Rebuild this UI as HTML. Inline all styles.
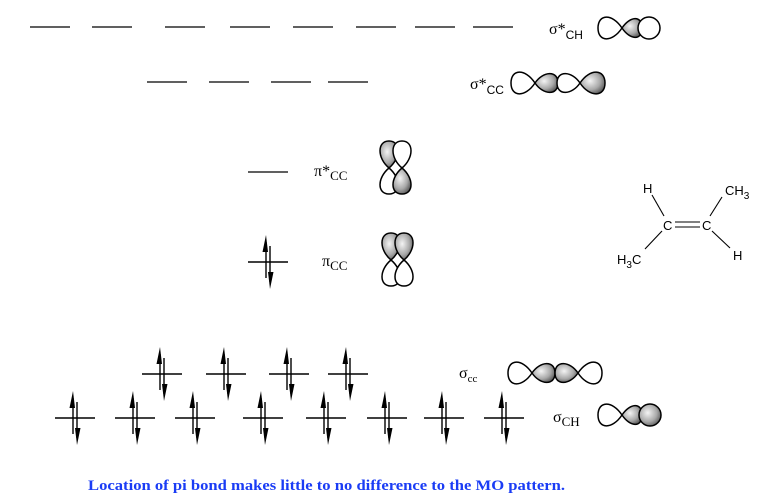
<!DOCTYPE html>
<html><head><meta charset="utf-8"><style>
html,body{margin:0;padding:0;background:#fff;}
svg{display:block;}
</style></head><body>
<svg width="781" height="502" viewBox="0 0 781 502" xmlns="http://www.w3.org/2000/svg">
<defs>
<radialGradient id="g" cx="0.4" cy="0.4" r="0.75">
<stop offset="0" stop-color="#f4f4f4"/><stop offset="0.55" stop-color="#a8a8a8"/><stop offset="1" stop-color="#3a3a3a"/>
</radialGradient>
<g id="ep">
<line x1="-20" y1="0" x2="20" y2="0" stroke="#000" stroke-width="1.4"/>
<line x1="-2" y1="-20" x2="-2" y2="16" stroke="#000" stroke-width="1.4"/>
<polygon points="-2,-27 -5.5,-10 0,-10" fill="#000"/>
<line x1="2" y1="-16" x2="2" y2="20" stroke="#000" stroke-width="1.4"/>
<polygon points="2,27 0,10 5.5,10" fill="#000"/>
</g>
</defs>
<g stroke="#000" stroke-width="1.3">
<line x1="30" y1="27" x2="70" y2="27"/><line x1="92" y1="27" x2="132" y2="27"/>
<line x1="165" y1="27" x2="205" y2="27"/><line x1="230" y1="27" x2="270" y2="27"/>
<line x1="293" y1="27" x2="333" y2="27"/><line x1="356" y1="27" x2="396" y2="27"/>
<line x1="415" y1="27" x2="455" y2="27"/><line x1="473" y1="27" x2="513" y2="27"/>
<line x1="147" y1="82" x2="187" y2="82"/><line x1="209" y1="82" x2="249" y2="82"/>
<line x1="271" y1="82" x2="311" y2="82"/><line x1="328" y1="82" x2="368" y2="82"/>
<line x1="248" y1="172" x2="288" y2="172"/>
</g>
<use href="#ep" x="268" y="262"/>
<use href="#ep" x="162" y="374"/><use href="#ep" x="226" y="374"/>
<use href="#ep" x="289" y="374"/><use href="#ep" x="348" y="374"/>
<use href="#ep" x="75" y="418"/><use href="#ep" x="135" y="418"/>
<use href="#ep" x="195" y="418"/><use href="#ep" x="263" y="418"/>
<use href="#ep" x="326" y="418"/><use href="#ep" x="387" y="418"/>
<use href="#ep" x="444" y="418"/><use href="#ep" x="504" y="418"/>

<g font-family="Liberation Serif, serif" font-size="16" fill="#000">
<text x="549" y="34">σ*<tspan font-family="Liberation Sans, sans-serif" font-size="12" dy="5">CH</tspan></text>
<text x="470" y="89">σ*<tspan font-family="Liberation Sans, sans-serif" font-size="12" dy="5">CC</tspan></text>
<text x="314" y="176">π*<tspan font-size="13" dy="4">CC</tspan></text>
<text x="322" y="266">π<tspan font-size="13" dy="4">CC</tspan></text>
<text x="459" y="378">σ<tspan font-size="11" dy="4">cc</tspan></text>
<text x="553" y="422">σ<tspan font-size="13" dy="4">CH</tspan></text>
</g>

<g stroke="#000" stroke-width="1.5">
<!-- sigma*CH -->
<path d="M622,28 C612,13 598,14 598,28 C598,42 612,43 622,28Z" fill="#fff"/>
<path d="M622,28 C630,16 642,15 642,28 C642,41 630,40 622,28Z" fill="url(#g)"/>
<circle cx="649" cy="28" r="11" fill="#fff"/>
<!-- sigma*CC -->
<path d="M535,83 C525,68 511,69 511,83 C511,97 525,98 535,83Z" fill="#fff"/>
<path d="M535,83 C543,71 558,70 558,83 C558,96 543,95 535,83Z" fill="url(#g)"/>
<path d="M580,83 C572,71 557,70 557,83 C557,96 572,95 580,83Z" fill="#fff"/>
<path d="M580,83 C590,68 605,69 605,83 C605,97 590,98 580,83Z" fill="url(#g)"/>
<!-- pi* -->
<path d="M389,168 C377,158 377,141 389,141 C401,141 401,158 389,168Z" fill="url(#g)"/>
<path d="M389,168 C377,178 377,194 389,194 C401,194 401,178 389,168Z" fill="#fff"/>
<path d="M402,168 C390,158 390,141 402,141 C414,141 414,158 402,168Z" fill="#fff"/>
<path d="M402,168 C390,178 390,194 402,194 C414,194 414,178 402,168Z" fill="url(#g)"/>
<!-- pi -->
<path d="M391,260 C379,250 379,233 391,233 C403,233 403,250 391,260Z" fill="url(#g)"/>
<path d="M404,260 C392,250 392,233 404,233 C416,233 416,250 404,260Z" fill="url(#g)"/>
<path d="M391,260 C379,270 379,286 391,286 C403,286 403,270 391,260Z" fill="#fff"/>
<path d="M404,260 C392,270 392,286 404,286 C416,286 416,270 404,260Z" fill="#fff"/>
<!-- sigma cc -->
<path d="M532,373 C522,358 508,359 508,373 C508,387 522,388 532,373Z" fill="#fff"/>
<path d="M578,373 C588,358 602,359 602,373 C602,387 588,388 578,373Z" fill="#fff"/>
<path d="M532,373 C540,361 555,360 555,373 C555,386 540,385 532,373Z" fill="url(#g)"/>
<path d="M578,373 C570,361 555,360 555,373 C555,386 570,385 578,373Z" fill="url(#g)"/>
<!-- sigma CH -->
<path d="M622,415 C612,400 598,401 598,415 C598,429 612,430 622,415Z" fill="#fff"/>
<path d="M622,415 C630,403 642,402 642,415 C642,428 630,427 622,415Z" fill="url(#g)"/>
<circle cx="650" cy="415" r="11" fill="url(#g)"/>
</g>

<!-- molecule -->
<g stroke="#000" stroke-width="1.1">
<line x1="652" y1="195" x2="664" y2="216"/>
<line x1="675" y1="222" x2="700" y2="222"/>
<line x1="675" y1="227" x2="700" y2="227"/>
<line x1="710" y1="216" x2="722" y2="197"/>
<line x1="662" y1="231" x2="645" y2="249"/>
<line x1="712" y1="231" x2="730" y2="248"/>
</g>
<g font-family="Liberation Sans, sans-serif" font-size="13" fill="#000">
<text x="643" y="193">H</text>
<text x="663" y="230">C</text>
<text x="702" y="230">C</text>
<text x="725" y="195">CH<tspan font-size="10" dy="4">3</tspan></text>
<text x="617" y="264">H<tspan font-size="10" dy="4">3</tspan><tspan dy="-4">C</tspan></text>
<text x="733" y="260">H</text>
</g>

<text x="88" y="490" font-family="Liberation Serif, serif" font-weight="bold" font-size="15" fill="#1a3cf5" textLength="477" lengthAdjust="spacingAndGlyphs">Location of pi bond makes little to no difference to the MO pattern.</text>
</svg>
</body></html>
